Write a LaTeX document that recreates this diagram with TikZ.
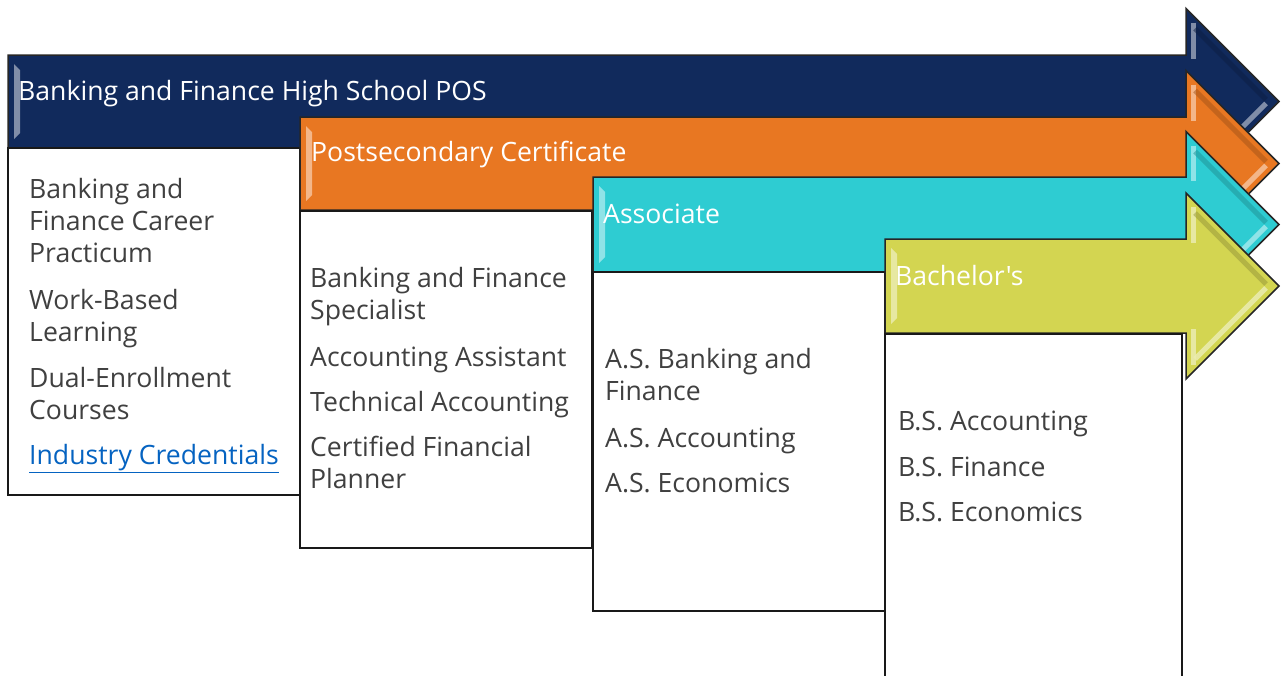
\documentclass[tikz,border=0pt]{standalone}
\usepackage{fontspec}
\setmainfont{Open Sans}[Ligatures=TeXOff]
\definecolor{navy}{HTML}{112A5C}
\definecolor{pumpkin}{HTML}{E87722}
\definecolor{aqua}{HTML}{2ECCD2}
\definecolor{limeish}{HTML}{D3D551}
\definecolor{bodytext}{HTML}{404040}
\definecolor{linkblue}{HTML}{0563C1}

\tikzset{
  stagebody/.style={draw=black!85, line width=1.5pt, line join=miter},
  listbox/.style={draw=black!90, line width=2pt, fill=white},
  header/.style={anchor=base west, inner sep=0pt, text=white,
    font=\fontsize{26.6}{32}\selectfont},
  % multi-line entries are anchored at the baseline of their last line
  entry/.style={anchor=base west, inner sep=0pt, text=bodytext,
    font=\fontsize{26.6}{32}\selectfont, align=left},
  lightbevel/.style={line width=5pt, line cap=butt},
}

% #1 colour, #2 left edge, #3 top, #4 bottom
\newcommand\stagearrow[4]{%
  \pgfmathsetmacro\cy{(#3+#4)/2}%
  \fill[#1] (#2,#3) -- (1186,#3) -- (1186,\cy-93) -- (1279,\cy) -- (1186,\cy+93)
    -- (1186,#4) -- (#2,#4) -- cycle;
  % bevel highlights and shade
  \fill[#1!45!white, opacity=0.85] (#2+6,#3+9) -- (#2+12,#3+15) -- (#2+12,#4-15) -- (#2+6,#4-9) -- cycle;
  \draw[lightbevel, #1!45!white, opacity=0.85] (1193,\cy-79) -- (1193,#3+4);
  \draw[lightbevel, #1!45!white, opacity=0.85] (1193,#4-4) -- (1193,\cy+79);
  \draw[lightbevel, #1!45!white, opacity=0.85] (1195,\cy+73) -- (1266,\cy+2);
  \draw[lightbevel, #1!70!black, opacity=0.5] (1195,\cy-73) -- (1266,\cy-2);
  \draw[stagebody] (#2,#3) -- (1186,#3) -- (1186,\cy-93) -- (1279,\cy) -- (1186,\cy+93)
    -- (1186,#4) -- (#2,#4) -- cycle;
}

\begin{document}
\begin{tikzpicture}[x=1pt, y=-1pt]
\useasboundingbox (0,0) rectangle (1283,675);

% stage 1: high school
\stagearrow{navy}{8}{55}{148}
\node[header] (hs) at (18,100) {Banking and Finance High School POS};
\draw[listbox] (8,148) rectangle (300,495);
\node[entry] (hs1) at (29,262) {Banking and\\Finance Career\\Practicum};
\node[entry] (hs2) at (29,341) {Work-Based\\Learning};
\node[entry] (hs3) at (29,419) {Dual-Enrollment\\Courses};
\node[entry, text=linkblue] (hs4) at (29,464) {\underline{Industry Credentials}};

% stage 2: postsecondary certificate
\stagearrow{pumpkin}{300}{117}{210}
\node[header] (pc) at (311,161.5) {Postsecondary Certificate};
\draw[listbox] (300,211) rectangle (592,548);
\node[entry] (pc1) at (310,319) {Banking and Finance\\Specialist};
\node[entry] (pc2) at (310,366) {Accounting Assistant};
\node[entry] (pc3) at (310,411) {Technical Accounting};
\node[entry] (pc4) at (310,488) {Certified Financial\\Planner};

% stage 3: associate
\stagearrow{aqua}{593}{177}{272}
\node[header] (as) at (603,223) {Associate};
\draw[listbox] (593,272) rectangle (885,611);
\node[entry] (as1) at (605,400) {A.S. Banking and\\Finance};
\node[entry] (as2) at (605,447) {A.S. Accounting};
\node[entry] (as3) at (605,492) {A.S. Economics};

% stage 4: bachelor's
\stagearrow{limeish}{885}{239}{333}
\node[header] (ba) at (895,285) {Bachelor's};
\draw[listbox] (885,334) rectangle (1182,690);
\node[entry] (ba1) at (898,430) {B.S. Accounting};
\node[entry] (ba2) at (898,476) {B.S. Finance};
\node[entry] (ba3) at (898,521) {B.S. Economics};
\end{tikzpicture}
\end{document}
